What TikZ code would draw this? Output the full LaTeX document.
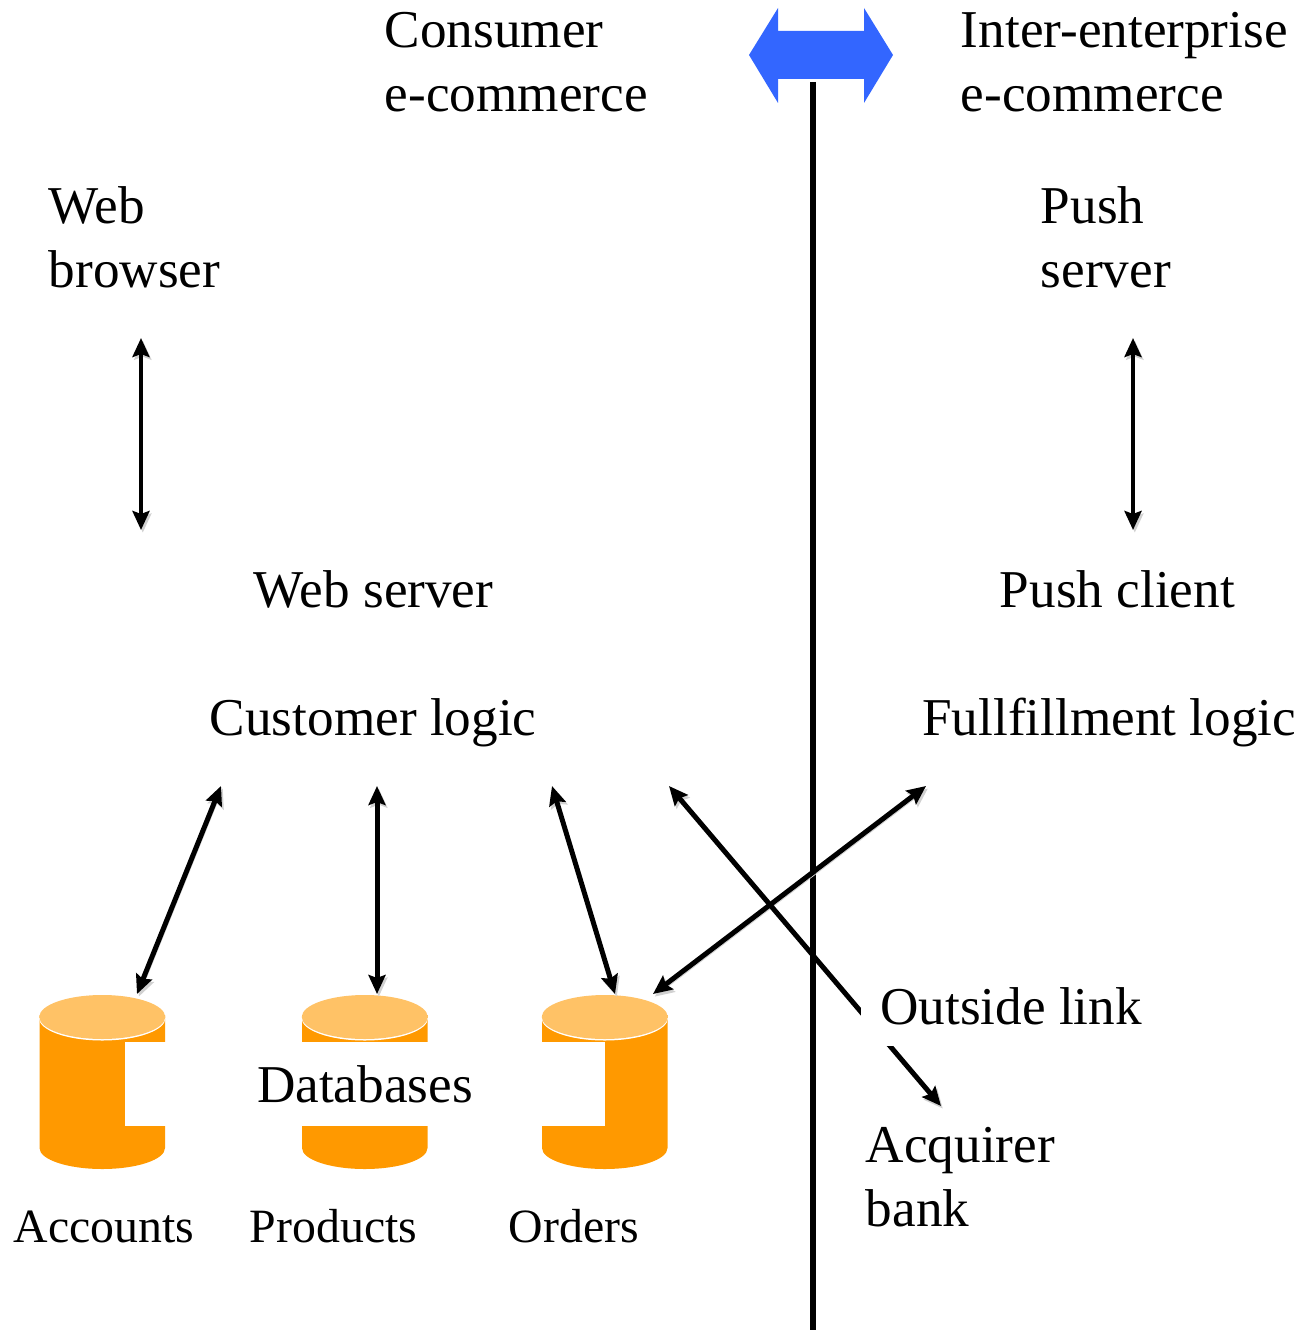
\documentclass[tikz,border=0pt]{standalone}
\usepackage{fontspec}
\setmainfont{Liberation Serif}
\usetikzlibrary{arrows.meta}
\definecolor{dbbody}{HTML}{FF9900}
\definecolor{dbtop}{HTML}{FFC266}
\definecolor{bluearrow}{HTML}{3366FF}
\tikzset{
  px/.style={x=0.5pt,y=-0.5pt},
  lbl/.style={anchor=base west,inner sep=0pt,font=\fontsize{26.6}{32}\selectfont,align=left},
  smalllbl/.style={anchor=base west,inner sep=0pt,font=\fontsize{23.9}{28}\selectfont},
  masklbl/.style={fill=white,inner sep=0pt,font=\fontsize{26.6}{32}\selectfont},
  link/.style={line width=2.5pt,{Stealth[length=9.5pt,width=8.5pt,inset=1.5pt]}-{Stealth[length=9.5pt,width=8.5pt,inset=1.5pt]},
    preaction={draw=black!18,transform canvas={shift={(0.9pt,-1.3pt)}}}},
  thinlink/.style={link,line width=2.3pt},
  divider/.style={line width=2.6pt,preaction={draw=black!18,transform canvas={shift={(0.9pt,0pt)}}}},
}
\newcommand{\dbcyl}[1]{%
  \fill[dbbody] (#1,1015) -- (#1+125.5,1015) -- (#1+125.5,1148)
    arc[start angle=0,end angle=-180,x radius=62.75,y radius=-21] -- cycle;
  \fill[white] (#1-0.5,1018) arc[start angle=180,end angle=360,x radius=63.25,y radius=-22.5] -- cycle;
  \fill[dbtop] (#1+62.75,1017) ellipse [x radius=63,y radius=-22];
}
\begin{document}
\begin{tikzpicture}[px]
\useasboundingbox (0,0) rectangle (1305,1336);
% databases
\dbcyl{39.5}
\dbcyl{302}
\dbcyl{542}
% blue arrow
\fill[bluearrow] (749,55) -- (778,8) -- (778,31) -- (864,31) -- (864,8) -- (893,55)
  -- (864,103) -- (864,79) -- (778,79) -- (778,103) -- cycle;
% divider
\coordinate (divTop) at (813,82);
\coordinate (divBottom) at (813,1330);
\draw[divider] (divTop) -- (divBottom);
% connector ends
\coordinate (browserEnd) at (141,338);
\coordinate (webEnd) at (141,530);
\coordinate (pushSrvEnd) at (1133,338);
\coordinate (pushCliEnd) at (1133,530);
\coordinate (logicA) at (221,786);
\coordinate (logicB) at (377,786);
\coordinate (logicC) at (552,786);
\coordinate (logicD) at (669,786);
\coordinate (fulfilEnd) at (926,786);
\coordinate (dbAccounts) at (137,994);
\coordinate (dbProducts) at (377,994);
\coordinate (dbOrdersA) at (615,994);
\coordinate (dbOrdersB) at (653,994);
\coordinate (bankEnd) at (941,1106);
% connectors
\draw[thinlink] (browserEnd) -- (webEnd);
\draw[thinlink] (pushSrvEnd) -- (pushCliEnd);
\draw[link] (logicA) -- (dbAccounts);
\draw[link] (logicB) -- (dbProducts);
\draw[link] (logicC) -- (dbOrdersA);
\draw[link] (fulfilEnd) -- (dbOrdersB);
\draw[link] (logicD) -- (bankEnd);
% text
\node[lbl] (consumer) at (384.5,112) {Consumer\\e-commerce};
\node[lbl] (inter) at (960.5,112) {Inter-enterprise\\e-commerce};
\node[lbl] (browser) at (48.5,288) {Web\\browser};
\node[lbl] (pushserver) at (1040.5,288) {Push\\server};
\node[lbl] (webserver) at (253.5,607) {Web server};
\node[lbl] (pushclient) at (999.5,607) {Push client};
\node[lbl] (customer) at (209.5,735) {Customer logic};
\node[lbl] (fulfil) at (922,735) {Fullfillment logic};
\node[masklbl,minimum width=240pt,minimum height=42pt] (databases) at (365,1084) {\raisebox{-1.5pt}{Databases}};
\node[masklbl,minimum width=150pt,minimum height=40pt] (outside) at (1011,1006) {Outside link};
\node[lbl] (bank) at (865.5,1226) {Acquirer\\bank};
\node[smalllbl] (accounts) at (13.5,1242.5) {Accounts};
\node[smalllbl] (products) at (249.5,1242.5) {Products};
\node[smalllbl] (orders) at (508.5,1242.5) {Orders};
\end{tikzpicture}
\end{document}
